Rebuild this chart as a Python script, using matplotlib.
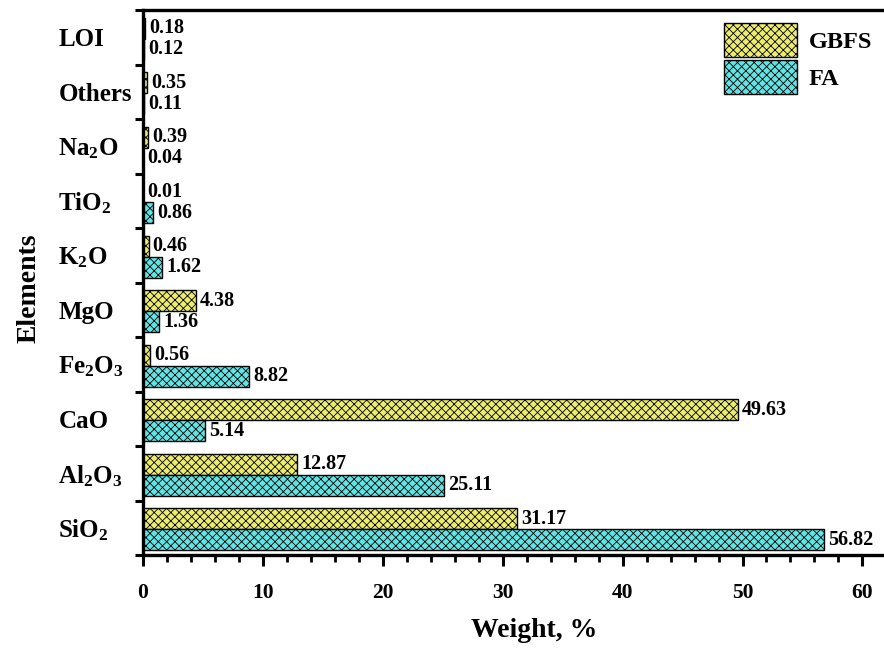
import matplotlib
matplotlib.use("Agg")
import matplotlib.pyplot as plt
import numpy as np
from matplotlib.ticker import MultipleLocator, FixedLocator

categories = ["SiO$_2$", "Al$_2$O$_3$", "CaO", "Fe$_2$O$_3$", "MgO", "K$_2$O",
              "TiO$_2$", "Na$_2$O", "Others", "LOI"]
gbfs = [31.17, 12.87, 49.63, 0.56, 4.38, 0.46, 0.01, 0.39, 0.35, 0.18]
fa = [56.82, 25.11, 5.14, 8.82, 1.36, 1.62, 0.86, 0.04, 0.11, 0.12]
gbfs_labels = ["31.17", "12.87", "49.63", "0.56", "4.38", "0.46", "0.01", "0.39", "0.35", "0.18"]
fa_labels = ["56.82", "25.11", "5.14", "8.82", "1.36", "1.62", "0.86", "0.04", "0.11", "0.12"]

plt.rcParams['font.family'] = ['Liberation Serif', 'DejaVu Serif']
plt.rcParams['font.weight'] = 'bold'
plt.rcParams['mathtext.fontset'] = 'custom'
plt.rcParams['mathtext.rm'] = 'Liberation Serif:bold'
plt.rcParams['mathtext.it'] = 'Liberation Serif:bold'
plt.rcParams['mathtext.bf'] = 'Liberation Serif:bold'
plt.rcParams['hatch.color'] = '#333333'
plt.rcParams['hatch.linewidth'] = 0.6

fig = plt.figure(figsize=(8.84, 6.48), dpi=100)
ax = fig.add_axes([143/884, 1-555/648, 1-143/884, (555-10)/648])

y = np.arange(len(categories))
h = 0.385
off = -0.03
b1 = ax.barh(y + h/2 + off, gbfs, height=h, color='#ecec6e', edgecolor='black',
             linewidth=1.0, hatch='xxxx', label='GBFS')
b2 = ax.barh(y - h/2 + off, fa, height=h, color='#62e4e4', edgecolor='black',
             linewidth=1.0, hatch='xxxx', label='FA')

for bars, labs in ((b1, gbfs_labels), (b2, fa_labels)):
    for rect, lab in zip(bars, labs):
        ax.annotate(lab, (rect.get_width(), rect.get_y() + rect.get_height()/2),
                    xytext=(3, 0), textcoords='offset points', ha='left', va='center',
                    fontsize=14.5, fontweight='bold')

ax.set_xlim(0, 61.8)
ax.set_ylim(-0.5, 9.5)
ax.xaxis.set_major_locator(MultipleLocator(10))
ax.xaxis.set_minor_locator(MultipleLocator(2))
ax.set_yticks(y)
ax.set_yticklabels(categories, fontsize=18, ha='left')
ax.yaxis.set_minor_locator(FixedLocator(np.arange(-0.5, 10, 1)))
ax.tick_params(axis='y', which='major', length=0, pad=61)
ax.tick_params(axis='y', which='minor', length=6, width=2.2, direction='out')
ax.tick_params(axis='x', which='major', length=8, width=2.2, direction='out', labelsize=15.5, pad=12)
ax.tick_params(axis='x', which='minor', length=5, width=2.0, direction='out')

for s in ('left', 'bottom', 'top'):
    ax.spines[s].set_linewidth(2.4)
ax.spines['right'].set_visible(False)

ax.set_xlabel("Weight, %", fontsize=20, fontweight='bold')
ax.xaxis.set_label_coords((534-143)/(884-143), -(618-555)/545)
ax.set_ylabel("Elements", fontsize=20, fontweight='bold')
ax.yaxis.set_label_coords(-(143-42)/(884-143), 0.49)

leg = ax.legend(loc='upper right', bbox_to_anchor=((882-143)/(884-143), 1 - 3/545),
                frameon=False, fontsize=17.5, handlelength=3.0, handleheight=1.8,
                labelspacing=0.12, handletextpad=0.5, borderaxespad=0)

fig.savefig("out.png", dpi=100)
